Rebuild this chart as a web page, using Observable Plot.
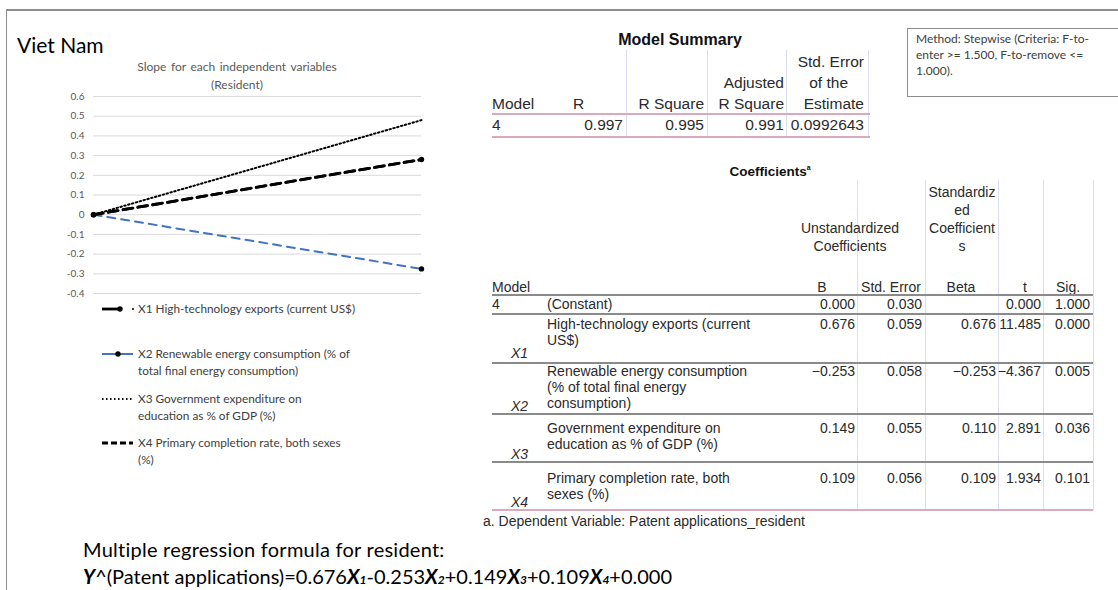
<!DOCTYPE html>
<html>
<head>
<meta charset="utf-8">
<script src="https://cdn.jsdelivr.net/npm/d3@7"></script>
<script src="https://cdn.jsdelivr.net/npm/@observablehq/plot@0.6"></script>
<style>
  html, body { margin: 0; padding: 0; background: #fff; }
  #page { position: relative; width: 1118px; height: 590px; overflow: hidden; background: #fff; }
  .t { position: absolute; white-space: nowrap; line-height: 16px; height: 16px; }
  .sp { font-family: "Liberation Sans", Arial, sans-serif; font-size: 14px; color: #2a2a2a; }
  .sm { font-size: 15.5px; }
  .xl { font-family: Lato, "Open Sans", sans-serif; }
  .hl { position: absolute; }
  .vl { position: absolute; width: 1px; background: #dcdcf5; }
</style>
</head>
<body>
<div id="page"></div>
<script>
// ---------------- data ----------------
const countryName = "Viet Nam";
const chartTitle = ["Slope for each independent variables", "(Resident)"];
const xPoints = [1, 2];
const seriesNames = [
  ["X1 High-technology exports (current US$)"],
  ["X2 Renewable energy consumption (% of", "total final energy consumption)"],
  ["X3 Government expenditure on", "education as % of GDP (%)"],
  ["X4 Primary completion rate, both sexes", "(%)"]
];
const seriesKeys = ["X1", "X2", "X3", "X4"];
const slopeStart = [0, 0, 0, 0];
const slopeEnd = [0.28, -0.275, 0.48, 0.28];
const yTicks = [0.6, 0.5, 0.4, 0.3, 0.2, 0.1, 0, -0.1, -0.2, -0.3, -0.4];

const summaryTitle = "Model Summary";
const summaryHeaders = ["Model", "R", "R Square", "Adjusted R Square", "Std. Error of the Estimate"];
const summaryValues = ["4", "0.997", "0.995", "0.991", "0.0992643"];

const methodNote = ["Method: Stepwise (Criteria: F-to-", "enter >= 1.500, F-to-remove <=", "1.000)."];

const coefTitle = "Coefficients";
const coefHeaders = ["Model", "B", "Std. Error", "Beta", "t", "Sig."];
const coefRowKeys = ["4", "X1", "X2", "X3", "X4"];
const coefRowLabels = [
  ["(Constant)"],
  ["High-technology exports (current", "US$)"],
  ["Renewable energy consumption", "(% of total final energy", "consumption)"],
  ["Government expenditure on", "education as % of GDP (%)"],
  ["Primary completion rate, both", "sexes (%)"]
];
const coefB = ["0.000", "0.676", "\u22120.253", "0.149", "0.109"];
const coefSE = ["0.030", "0.059", "0.058", "0.055", "0.056"];
const coefBeta = ["", "0.676", "\u22120.253", "0.110", "0.109"];
const coefT = ["0.000", "11.485", "\u22124.367", "2.891", "1.934"];
const coefSig = ["1.000", "0.000", "0.005", "0.036", "0.101"];
const footnote = "a. Dependent Variable: Patent applications_resident";

const formulaLine1 = "Multiple regression formula for resident:";
const formulaCoefs = ["0.676", "-0.253", "+0.149", "+0.109"];
const formulaConst = "+0.000";

// ---------------- helpers ----------------
const page = document.getElementById("page");
function txt(s, x, y, cls, anchor = "left", style = {}) {
  const d = document.createElement("div");
  d.className = "t " + cls;
  d.textContent = s;
  d.style.top = (y - 8) + "px";
  if (anchor === "left") d.style.left = x + "px";
  else if (anchor === "right") { d.style.left = (x - 400) + "px"; d.style.width = "400px"; d.style.textAlign = "right"; }
  else { d.style.left = (x - 200) + "px"; d.style.width = "400px"; d.style.textAlign = "center"; }
  Object.assign(d.style, style);
  page.appendChild(d);
  return d;
}
function hline(x1, x2, y, color, w = 1) {
  const d = document.createElement("div");
  d.className = "hl";
  Object.assign(d.style, { left: x1 + "px", top: (y - w / 2) + "px", width: (x2 - x1) + "px", height: w + "px", background: color });
  page.appendChild(d);
}
function vline(x, y1, y2, color = "#dcdcf5") {
  const d = document.createElement("div");
  d.className = "vl";
  Object.assign(d.style, { left: x + "px", top: y1 + "px", height: (y2 - y1) + "px", background: color });
  page.appendChild(d);
}

// outer frame
hline(6, 1118, 10, "#8c8c8c", 1.5);
vline(6, 10, 590, "#8c8c8c");

// ---------------- chart (Plot) ----------------
const rows = [];
seriesKeys.forEach((k, i) => {
  rows.push({ key: k, x: xPoints[0], y: slopeStart[i] });
  rows.push({ key: k, x: xPoints[1], y: slopeEnd[i] });
});
const sel = k => rows.filter(r => r.key === k);

const chart = Plot.plot({
  width: 440, height: 300,
  marginLeft: 93, marginRight: 19, marginTop: 96, marginBottom: 7,
  x: { domain: xPoints, axis: null },
  y: { domain: [-0.4, 0.6], axis: null },
  style: { fontFamily: "Lato, 'Open Sans', sans-serif", background: "transparent", overflow: "visible" },
  marks: [
    Plot.gridY(yTicks, { stroke: "#d9d9d9", strokeOpacity: 1, strokeWidth: 1 }),
    Plot.axisY(yTicks, { tickSize: 0, tickPadding: 9, fontSize: 10, fill: "#595959", label: null,
      tickFormat: d => String(+d.toFixed(1)) }),
    Plot.line(sel("X3"), { x: "x", y: "y", stroke: "#000", strokeWidth: 2, strokeDasharray: "1.5,2.5" }),
    Plot.line(sel("X2"), { x: "x", y: "y", stroke: "#4472c4", strokeWidth: 2, strokeDasharray: "8,6" }),
    Plot.line(sel("X1"), { x: "x", y: "y", stroke: "#000", strokeWidth: 2.8, strokeDasharray: "10,5" }),
    Plot.line(sel("X4"), { x: "x", y: "y", stroke: "#000", strokeWidth: 2.8, strokeDasharray: "9,6" }),
    Plot.dot(sel("X1").concat(sel("X2")), { x: "x", y: "y", r: 2.7, fill: "#000", stroke: "none" })
  ]
});
chart.style.position = "absolute";
chart.style.left = "0px";
chart.style.top = "0px";
page.appendChild(chart);

// country + chart title
txt(countryName, 17, 45, "xl", "left", { fontSize: "21px", color: "#000", lineHeight: "24px", height: "24px", top: "33px" });
txt(chartTitle[0], 237, 67, "xl", "center", { fontSize: "12px", color: "#595959", wordSpacing: "1.5px" });
txt(chartTitle[1], 237, 85, "xl", "center", { fontSize: "12px", color: "#595959" });

// legend
const legendY = [309, 354, 399, 443];
const legendStyles = [
  { stroke: "#000", dash: "none", w: 2.8, dots: true },
  { stroke: "#4472c4", dash: "none", w: 2, dots: true },
  { stroke: "#000", dash: "1.5,2.5", w: 2, dots: false },
  { stroke: "#000", dash: "6,3", w: 2.8, dots: false }
];
legendY.forEach((y, i) => {
  const st = legendStyles[i];
  const ns = "http://www.w3.org/2000/svg";
  const svg = document.createElementNS(ns, "svg");
  svg.setAttribute("width", 40); svg.setAttribute("height", 10);
  Object.assign(svg.style, { position: "absolute", left: "100px", top: (y - 5) + "px" });
  const ln = document.createElementNS(ns, "line");
  ln.setAttribute("x1", 2); ln.setAttribute("x2", i === 0 ? 22 : 33); ln.setAttribute("y1", 5); ln.setAttribute("y2", 5);
  ln.setAttribute("stroke", st.stroke); ln.setAttribute("stroke-width", st.w);
  if (st.dash !== "none") ln.setAttribute("stroke-dasharray", st.dash);
  svg.appendChild(ln);
  if (st.dots) {
    const c = document.createElementNS(ns, "circle");
    c.setAttribute("cx", i === 0 ? 20 : 18); c.setAttribute("cy", 5); c.setAttribute("r", 2.7); c.setAttribute("fill", "#000");
    svg.appendChild(c);
    if (i === 0) {
      const c2 = document.createElementNS(ns, "circle");
      c2.setAttribute("cx", 33); c2.setAttribute("cy", 5); c2.setAttribute("r", 1); c2.setAttribute("fill", "#000");
      svg.appendChild(c2);
    }
  }
  page.appendChild(svg);
  seriesNames[i].forEach((line, j) => {
    txt(line, 138, y + j * 17, "xl", "left", { fontSize: "11.8px", color: "#404040" });
  });
});

// ---------------- Model Summary ----------------
txt(summaryTitle, 680, 40, "sp", "center", { fontWeight: "bold", fontSize: "16px", color: "#111" });
[626, 707, 786, 868].forEach(x => vline(x, 50, 137));
txt(summaryHeaders[0], 492, 104, "sp sm");
txt(summaryHeaders[1], 573, 104, "sp sm");
txt(summaryHeaders[2], 704, 104, "sp sm", "right");
txt("Adjusted", 784, 83, "sp sm", "right");
txt("R Square", 784, 104, "sp sm", "right");
txt("Std. Error", 864, 62, "sp sm", "right");
txt("of the", 848, 83, "sp sm", "right");
txt("Estimate", 864, 104, "sp sm", "right");
hline(492, 870, 114, "#d9a9bd", 2);
txt(summaryValues[0], 492, 125, "sp sm");
txt(summaryValues[1], 623, 125, "sp sm", "right");
txt(summaryValues[2], 704, 125, "sp sm", "right");
txt(summaryValues[3], 784, 125, "sp sm", "right");
txt(summaryValues[4], 864, 125, "sp sm", "right");
hline(492, 870, 137, "#d9a9bd", 2);

// method box
const box = document.createElement("div");
Object.assign(box.style, { position: "absolute", left: "907px", top: "28px", width: "220px", height: "67px",
  border: "1.5px solid #8c8c8c", background: "#fff" });
page.appendChild(box);
methodNote.forEach((s, i) => txt(s, 916, 39 + i * 16, "xl", "left", { fontSize: "12px", color: "#404040" }));

// ---------------- Coefficients ----------------
const cT = txt(coefTitle, 770, 168, "sp", "center", { fontWeight: "bold", fontSize: "13.5px", color: "#111" });
const sup = document.createElement("sup"); sup.textContent = "a"; sup.style.fontSize = "7px";
cT.appendChild(sup);
[857, 925, 998, 1043, 1093].forEach(x => vline(x, 180, 510));
["Standardiz", "ed", "Coefficient", "s"].forEach((s, i) => txt(s, 962, 192 + i * 18, "sp", "center"));
txt("Unstandardized", 850, 228, "sp", "center");
txt("Coefficients", 850, 246, "sp", "center");
txt(coefHeaders[0], 492, 287, "sp");
txt(coefHeaders[1], 822, 287, "sp", "center");
txt(coefHeaders[2], 891, 287, "sp", "center");
txt(coefHeaders[3], 961, 287, "sp", "center");
txt(coefHeaders[4], 1025, 287, "sp", "center");
txt(coefHeaders[5], 1068, 287, "sp", "center");
hline(492, 1093, 295, "#8a8a8a", 2);

const rowTop = [304, 324, 371, 428, 478];
const rowLineBelow = [314, 363, 414, 462, 510];
const keyY = [304, 353, 406, 454, 502];
coefRowKeys.forEach((k, i) => {
  if (i === 0) txt(k, 492, keyY[i], "sp");
  else txt(k, 511, keyY[i], "sp", "left", { fontStyle: "italic" });
  coefRowLabels[i].forEach((s, j) => txt(s, 547, rowTop[i] + j * 16, "sp"));
  txt(coefB[i], 855, rowTop[i], "sp", "right");
  txt(coefSE[i], 922, rowTop[i], "sp", "right");
  txt(coefBeta[i], 996, rowTop[i], "sp", "right");
  txt(coefT[i], 1041, rowTop[i], "sp", "right");
  txt(coefSig[i], 1090, rowTop[i], "sp", "right");
  if (i < 4) hline(492, 1093, rowLineBelow[i], "#8a8a8a", i === 0 ? 1.5 : 2);
  else hline(492, 1093, rowLineBelow[i], "#d9a9bd", 2.5);
});
txt(footnote, 483, 521, "sp");

// ---------------- formula ----------------
txt(formulaLine1, 83, 549, "xl", "left", { fontSize: "20px", letterSpacing: "0.25px", color: "#000", lineHeight: "24px", height: "24px", top: "537px" });
const f2 = txt("", 83, 576, "xl", "left", { fontSize: "20px", color: "#000", lineHeight: "24px", height: "24px", top: "564px" });
function span(s, st) { const e = document.createElement("span"); e.textContent = s; Object.assign(e.style, st || {}); f2.appendChild(e); return e; }
span("Y", { fontWeight: "bold", fontStyle: "italic" });
span("^(Patent applications)=");
formulaCoefs.forEach((c, i) => {
  span(c);
  span("X", { fontWeight: "bold", fontStyle: "italic" });
  span(String(i + 1), { fontWeight: "bold", fontStyle: "italic", fontSize: "12px" });
});
span(formulaConst);
</script>
</body>
</html>
